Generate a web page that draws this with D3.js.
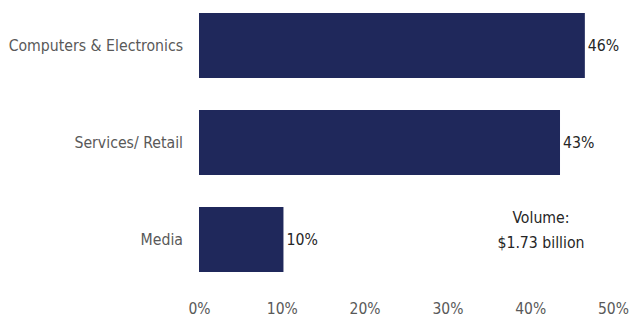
<!DOCTYPE html>
<html><head><meta charset="utf-8">
<script src="https://cdn.jsdelivr.net/npm/d3@7/dist/d3.min.js"></script>
<style>body{margin:0;background:#fff}svg{display:block}text{font-family:"Liberation Sans Narrow","Arial Narrow","DejaVu Sans Condensed",sans-serif}</style>
</head><body><div id="chart"></div>
<script>
const categories = ["Computers & Electronics", "Services/ Retail", "Media"];
const values = [46.6, 43.6, 10.2];
const valueLabels = ["46%", "43%", "10%"];
const tickValues = [0, 10, 20, 30, 40, 50];
const note = ["Volume:", "$1.73 billion"];

const W = 632, H = 320;
const FONT = '"Liberation Sans Narrow","Arial Narrow","DejaVu Sans Condensed",sans-serif';
const svg = d3.select("#chart").append("svg").attr("width", W).attr("height", H);
const x = d3.scaleLinear().domain([0, 50]).range([199, 613]);
const y = d3.scaleBand().domain(categories).range([-3, 288]).paddingInner(0.33).paddingOuter(0.165);

svg.selectAll("rect.bar").data(categories).join("rect").attr("class", "bar")
  .attr("x", x(0)).attr("y", d => y(d))
  .attr("width", (d, i) => x(values[i]) - x(0)).attr("height", y.bandwidth())
  .attr("fill", "#1f285b");

svg.selectAll("text.cat").data(categories).join("text").attr("class", "cat")
  .attr("x", 183).attr("y", d => y(d) + y.bandwidth() / 2).attr("dy", "0.35em")
  .attr("text-anchor", "end").attr("fill", "#595959").attr("font-size", 15.7).text(d => d);

svg.selectAll("text.val").data(categories).join("text").attr("class", "val")
  .attr("x", (d, i) => x(values[i]) + 3).attr("y", d => y(d) + y.bandwidth() / 2).attr("dy", "0.35em")
  .attr("fill", "#262626").attr("font-size", 15.7).text((d, i) => valueLabels[i]);

const axis = d3.axisBottom(x).tickValues(tickValues).tickFormat(d => d + "%").tickSize(0).tickPadding(0);
const g = svg.append("g").attr("transform", "translate(0,300)").call(axis);
g.select(".domain").remove();
g.selectAll("text").attr("fill", "#595959").attr("font-size", 15.5).attr("dy", "0.35em").attr("y", 9)
  .style("font-family", FONT);

svg.append("text").attr("x", 541).attr("y", 223).attr("text-anchor", "middle")
  .attr("fill", "#262626").attr("font-size", 15.7)
  .selectAll("tspan").data(note).join("tspan").attr("x", 541).attr("dy", (d, i) => i ? 25 : 0).text(d => d);
</script></body></html>
